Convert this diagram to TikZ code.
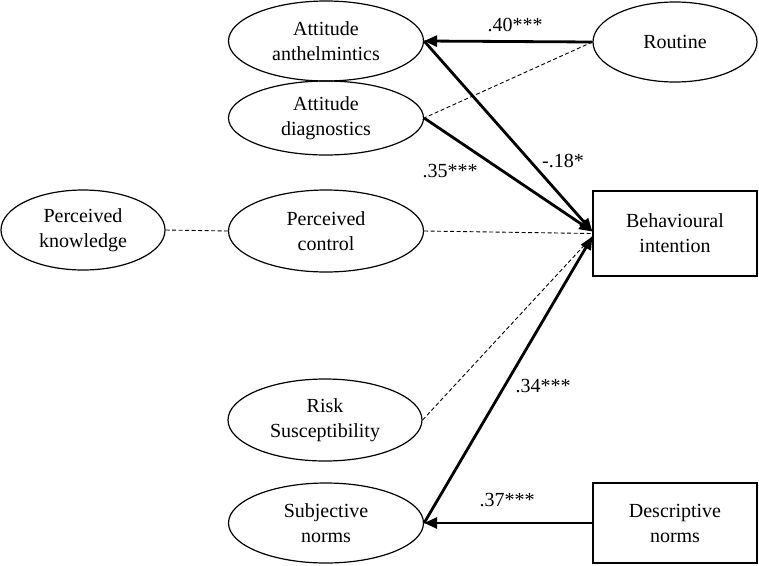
\documentclass[tikz,border=0pt]{standalone}
\usepackage{fontspec}
\setmainfont{Liberation Serif}
\usetikzlibrary{shapes.geometric,arrows.meta,calc}
\begin{document}
\begin{tikzpicture}[x=1pt,y=-1pt,
  every node/.style={font=\fontsize{20}{25}\selectfont, align=center, inner sep=0pt},
  ell/.style={ellipse, draw, line width=1.2pt},
  boxn/.style={rectangle, draw, line width=1.2pt, minimum width=164pt},
  strong/.style={line width=2.8pt, -{Triangle[length=13pt,width=11pt]}},
  weak/.style={dashed, line width=0.9pt, dash pattern=on 4pt off 2.5pt},
  lbl/.style={}]
\useasboundingbox (0,0) rectangle (759,565);
\node[ell, minimum width=195pt, minimum height=80pt] (AA) at (326,41) {Attitude\\anthelmintics};
\node[ell, minimum width=195pt, minimum height=74pt] (AD) at (326,118) {Attitude\\diagnostics};
\node[ell, minimum width=164pt, minimum height=80pt] (PK) at (83,230) {Perceived\\knowledge};
\node[ell, minimum width=195pt, minimum height=82pt] (PC) at (326,231) {Perceived\\control};
\node[ell, minimum width=194pt, minimum height=82pt] (RS) at (325,420) {Risk\\Susceptibility};
\node[ell, minimum width=195pt, minimum height=80pt] (SN) at (326,523) {Subjective\\norms};
\node[ell, minimum width=164pt, minimum height=80pt] (RO) at (675,42) {Routine};
\node[boxn, minimum height=85pt] (BI) at (675,233.5) {Behavioural\\intention};
\node[boxn, minimum height=80pt] (DN) at (675,523) {Descriptive\\norms};
\coordinate (BIu) at ($(BI.west)+(0,-2)$);
\coordinate (BId) at ($(BI.west)+(0,3)$);
\draw[strong] (RO.west) -- (AA.east);
\draw[weak] (RO.west) -- (AD.east);
\draw[strong] (AA.east) -- (BIu);
\draw[strong] (AD.east) -- (BIu);
\draw[weak] (PK.east) -- (PC.west);
\draw[weak] (PC.east) -- (BI.west);
\draw[weak] (RS.east) -- (BId);
\draw[strong] (SN.east) -- (BId);
\draw[strong] (DN.west) -- (SN.east);
\node[lbl] (l40) at (515,25) {.40***};
\node[lbl] (l18) at (563,161) {-.18*};
\node[lbl] (l35) at (450,171) {.35***};
\node[lbl] (l34) at (543,386) {.34***};
\node[lbl] (l37) at (507,500) {.37***};
\end{tikzpicture}
\end{document}
